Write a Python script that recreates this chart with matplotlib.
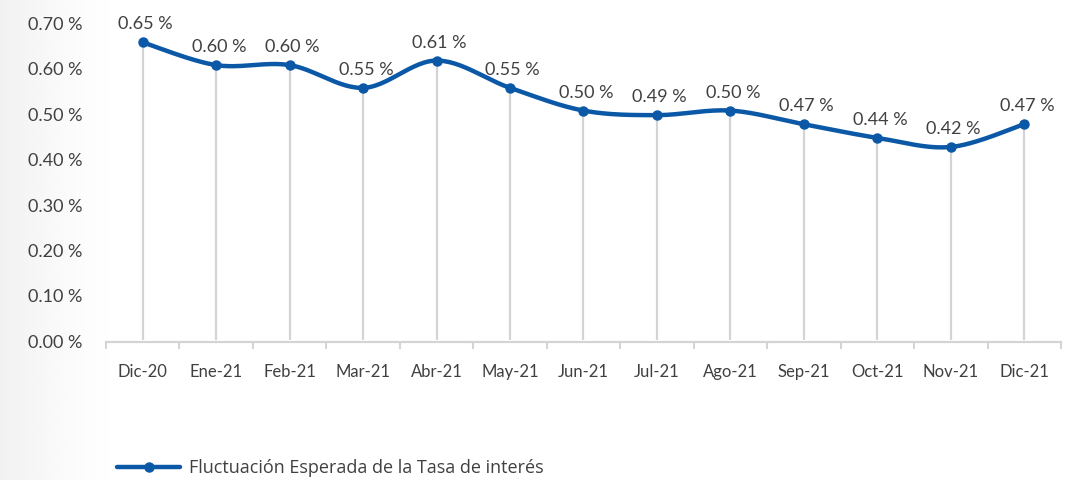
import numpy as np
import matplotlib
matplotlib.use("Agg")
import matplotlib.pyplot as plt
import matplotlib.transforms as mtransforms
from matplotlib.ticker import FixedLocator, NullFormatter


MONTHS = ["Dic-20", "Ene-21", "Feb-21", "Mar-21", "Abr-21", "May-21", "Jun-21",
          "Jul-21", "Ago-21", "Sep-21", "Oct-21", "Nov-21", "Dic-21"]
RATE = [0.65, 0.60, 0.60, 0.55, 0.61, 0.55, 0.50, 0.49, 0.50, 0.47, 0.44, 0.42, 0.47]
Y_TICKS = [0.0, 0.1, 0.2, 0.3, 0.4, 0.5, 0.6, 0.7]
SERIES_NAME = "Fluctuación Esperada de la Tasa de interés"

BLUE = "#0b58a7"
GREY = "#d3d4d6"
TEXT = "#404040"
FONT = "Lato"


def smooth_curve(x, y, steps=30):
    """Bezier smoothing through every point (spreadsheet-style smoothed line)."""
    x = np.asarray(x, float)
    y = np.asarray(y, float)
    n = len(x)
    xs, ys = [], []
    for i in range(n - 1):
        p0 = np.array([x[i], y[i]])
        p3 = np.array([x[i + 1], y[i + 1]])
        prev = np.array([x[max(i - 1, 0)], y[max(i - 1, 0)]])
        nxt = np.array([x[min(i + 2, n - 1)], y[min(i + 2, n - 1)]])
        c1 = p0 + (p3 - prev) / 6.0
        c2 = p3 - (nxt - p0) / 6.0
        t = np.linspace(0, 1, steps)[:, None]
        pts = ((1 - t) ** 3) * p0 + 3 * ((1 - t) ** 2) * t * c1 \
            + 3 * (1 - t) * t ** 2 * c2 + t ** 3 * p3
        xs.append(pts[:, 0])
        ys.append(pts[:, 1])
    return np.concatenate(xs), np.concatenate(ys)


fig = plt.figure(figsize=(10.72, 4.8), dpi=100)

# faint grey shading on the left edge of the canvas
bg = fig.add_axes([0, 0, 1, 1], zorder=-5)
grad = np.linspace(0, 1, 400)
shade = 1 - 0.055 * np.clip(1 - grad / 0.12, 0, 1) ** 1.5
bg.imshow(np.tile(shade, (10, 1)), cmap="gray", vmin=0, vmax=1,
          aspect="auto", extent=[0, 1, 0, 1])
bg.set_axis_off()

ax = fig.add_axes([0.0989, 0.2883, 0.8908, 0.6708])
ax.patch.set_alpha(0)

x = np.arange(len(MONTHS))

ax.vlines(x, -0.004, RATE, color=GREY, lw=1.6, zorder=1)

sx, sy = smooth_curve(x, RATE)
ax.plot(sx, sy, color=BLUE, lw=3.2, solid_capstyle="round", zorder=3)
ax.plot(x, RATE, "o", color=BLUE, ms=6.5, zorder=4)

for xi, v in zip(x, RATE):
    ax.annotate(f"{v:.2f} %", (xi, v), xytext=(2, 13), textcoords="offset points",
                ha="center", va="center", fontsize=13, color=TEXT, family=FONT)

ax.set_xlim(-0.5, len(MONTHS) - 0.5)
ax.set_ylim(-0.008, 0.70)

ax.set_yticks(Y_TICKS)
ax.set_yticklabels([f"{t:.2f} %" for t in Y_TICKS], fontsize=13, color=TEXT,
                   family=FONT)
ax.tick_params(axis="y", length=0, pad=17)
shift = mtransforms.ScaledTranslation(0, -2.5 / 72, fig.dpi_scale_trans)
for lbl in ax.get_yticklabels():
    lbl.set_transform(lbl.get_transform() + shift)

ax.set_xticks(x)
ax.set_xticklabels(MONTHS, fontsize=12, color=TEXT, family=FONT)
ax.tick_params(axis="x", which="major", length=0, pad=16)
ax.xaxis.set_minor_locator(FixedLocator(np.arange(-0.5, len(MONTHS), 1.0)))
ax.xaxis.set_minor_formatter(NullFormatter())
ax.tick_params(axis="x", which="minor", length=5, width=1.5, color=GREY)

for side in ["top", "right", "left"]:
    ax.spines[side].set_visible(False)
ax.spines["bottom"].set_color(GREY)
ax.spines["bottom"].set_linewidth(1.6)

# legend below the plot
handle, = ax.plot([], [], color=BLUE, lw=3.2, marker="o", ms=6.5,
                  solid_capstyle="round")
fig.legend([handle], [SERIES_NAME], loc="center left",
           bbox_to_anchor=(0.094, 0.025), frameon=False, handlelength=3.5,
           handletextpad=0.5, prop={"family": "Open Sans", "size": 13},
           labelcolor=TEXT)

fig.savefig("out.png", dpi=100)
